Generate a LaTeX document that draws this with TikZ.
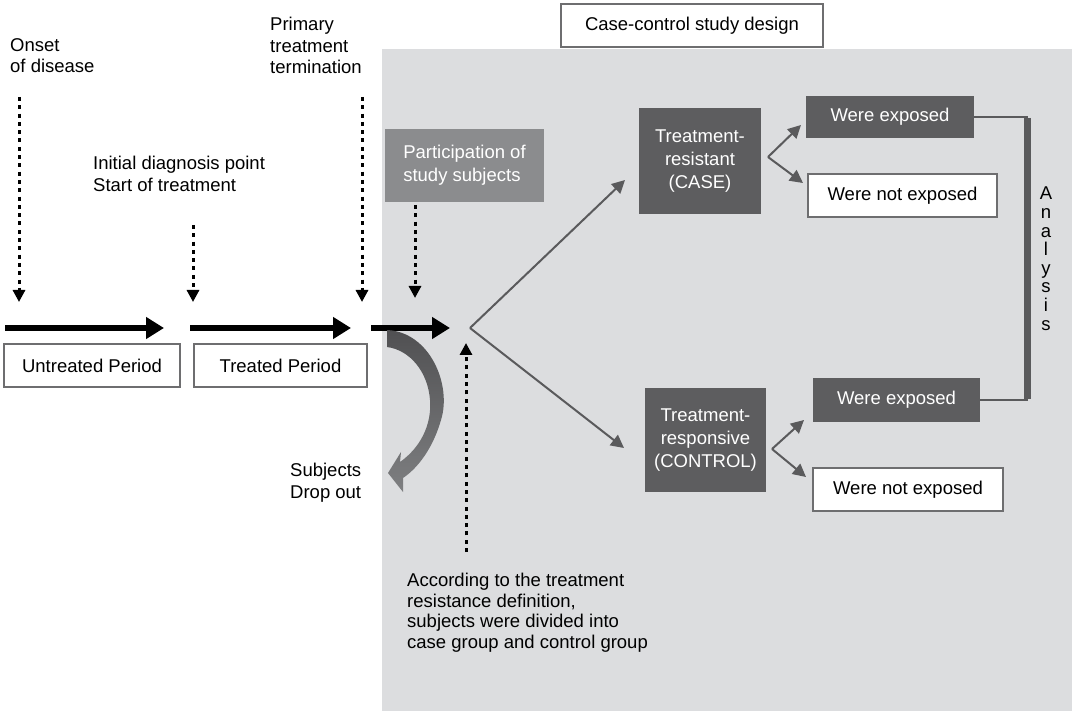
\documentclass[tikz,border=0pt]{standalone}
\usepackage{fontspec}
\setmainfont{Liberation Sans}
\usetikzlibrary{positioning,arrows.meta,calc}
\definecolor{panelgray}{HTML}{DCDDDF}
\definecolor{casefill}{HTML}{5D5D5F}
\definecolor{partfill}{HTML}{8B8C8E}
\definecolor{linkgray}{HTML}{5A5A5C}
\definecolor{edgegray}{HTML}{6E6E70}
\definecolor{dropdark}{HTML}{505052}
\definecolor{droplight}{HTML}{7E7F81}
\tikzset{
    every node/.style={font=\fontsize{18.5pt}{21.5pt}\selectfont,inner sep=0pt},
    txt/.style={anchor=north west,align=left},
    whitebox/.style={draw=edgegray,fill=white,line width=1.2pt},
    casebox/.style={fill=casefill,text=white,align=center,font=\fontsize{18.5pt}{23.3pt}\selectfont},
    timeline/.style={line width=6pt,-{Triangle[length=18pt,width=21pt]}},
    marker/.style={line width=3pt,dash pattern=on 4pt off 4.3pt,-{Triangle[length=12pt,width=12pt]}},
    link/.style={draw=linkgray,line width=2pt,-{Triangle[length=13pt,width=13pt]}},
}

\begin{document}
\begin{tikzpicture}[x=1pt,y=-1pt]
    \useasboundingbox (0,0) rectangle (1072,711);
    \fill[panelgray] (382,49) rectangle (1072,711);

    % titles and time points
    \node[whitebox,minimum width=262pt,minimum height=43pt] (design) at (692,25.5) {Case-control study design};
    \node[txt] (onset) at (10,38) {Onset\\of disease};
    \node[txt] (primary) at (270,17) {Primary\\treatment\\termination};
    \node[txt] (initial) at (93,156) {Initial diagnosis point\\Start of treatment};

    % periods
    \node[whitebox,minimum width=176pt,minimum height=43pt] (untreated) at (92,365.5) {Untreated Period};
    \node[whitebox,minimum width=173pt,minimum height=43pt] (treated) at (280.5,365.5) {Treated Period};
    \node[fill=partfill,text=white,align=left,minimum width=159pt,minimum height=73pt,
        font=\fontsize{18.5pt}{23.3pt}\selectfont] (part) at (464.5,165.5) {Participation of\\study subjects};

    % groups
    \node[casebox,minimum width=122pt,minimum height=106pt] (case) at (700,161) {Treatment-\\resistant\\(CASE)};
    \node[casebox,minimum width=121pt,minimum height=104pt] (control) at (705.5,440) {Treatment-\\responsive\\(CONTROL)};
    \node[casebox,minimum width=168pt,minimum height=42pt] (expA) at (890,117) {Were exposed};
    \node[whitebox,minimum width=189pt,minimum height=43pt] (notA) at (902.5,195.5) {Were not exposed};
    \node[casebox,minimum width=167pt,minimum height=44pt] (expB) at (896.5,400) {Were exposed};
    \node[whitebox,minimum width=190pt,minimum height=43pt] (notB) at (908,489.5) {Were not exposed};

    \node[txt] (dropout) at (290,463) {Subjects\\Drop out};
    \node[txt,font=\fontsize{18.5pt}{20.5pt}\selectfont] (rule) at (407,573)
        {According to the treatment\\resistance definition,\\subjects were divided into\\case group and control group};
    \node[anchor=north,align=center,font=\fontsize{18.5pt}{18.6pt}\selectfont] (analysis) at (1046,187)
        {A\\n\\a\\l\\y\\s\\i\\s};

    % connector ends
    \coordinate (t1s) at (5,328);   \coordinate (t1e) at (164,328);
    \coordinate (t2s) at (190,328); \coordinate (t2e) at (351,328);
    \coordinate (t3s) at (371,328); \coordinate (t3e) at (450,328);
    \coordinate (m1s) at (19,97);   \coordinate (m1e) at (19,302);
    \coordinate (m2s) at (193,225); \coordinate (m2e) at (193,302);
    \coordinate (m3s) at (362,97);  \coordinate (m3e) at (362,302);
    \coordinate (m4s) at (415,205); \coordinate (m4e) at (415,298);
    \coordinate (m5s) at (466,552); \coordinate (m5e) at (466,343);
    \coordinate (split) at (470,328);
    \coordinate (caseIn) at (625,180);
    \coordinate (controlIn) at (624,448);
    \coordinate (caseFork) at (768,157);
    \coordinate (expAIn) at (801,125);
    \coordinate (notAIn) at (803,183);
    \coordinate (controlFork) at (772,449);
    \coordinate (expBIn) at (804,420);
    \coordinate (notBIn) at (806,477);
    \coordinate (brTop) at (1027.5,117);
    \coordinate (brBot) at (1027.5,400);

    \draw[timeline] (t1s) -- (t1e);
    \draw[timeline] (t2s) -- (t2e);
    \draw[timeline] (t3s) -- (t3e);
    \foreach \m in {1,...,5}
        \draw[marker] (m\m s) -- (m\m e);

    \draw[link] (split) -- (caseIn);
    \draw[link] (split) -- (controlIn);
    \draw[link] (caseFork) -- (expAIn);
    \draw[link] (caseFork) -- (notAIn);
    \draw[link] (controlFork) -- (expBIn);
    \draw[link] (controlFork) -- (notBIn);

    % analysis bracket
    \draw[linkgray,line width=2pt] (expA.east) -- (brTop);
    \draw[linkgray,line width=2pt] (expB.east) -- (brBot);
    \draw[linkgray,line width=7pt] ([yshift=-1pt]brTop) -- ([yshift=1pt]brBot);

    % drop out arrow
    \shade[top color=dropdark,bottom color=droplight]
        (387,330) .. controls (430,332) and (452,385) .. (441,420)
        .. controls (433,448) and (418,468) .. (403,478)
        -- (403,492) -- (388,473) -- (401,452) -- (400,462)
        .. controls (420,448) and (432,425) .. (430,400)
        .. controls (428,372) and (410,350) .. (387,347) -- cycle;
\end{tikzpicture}
\end{document}
